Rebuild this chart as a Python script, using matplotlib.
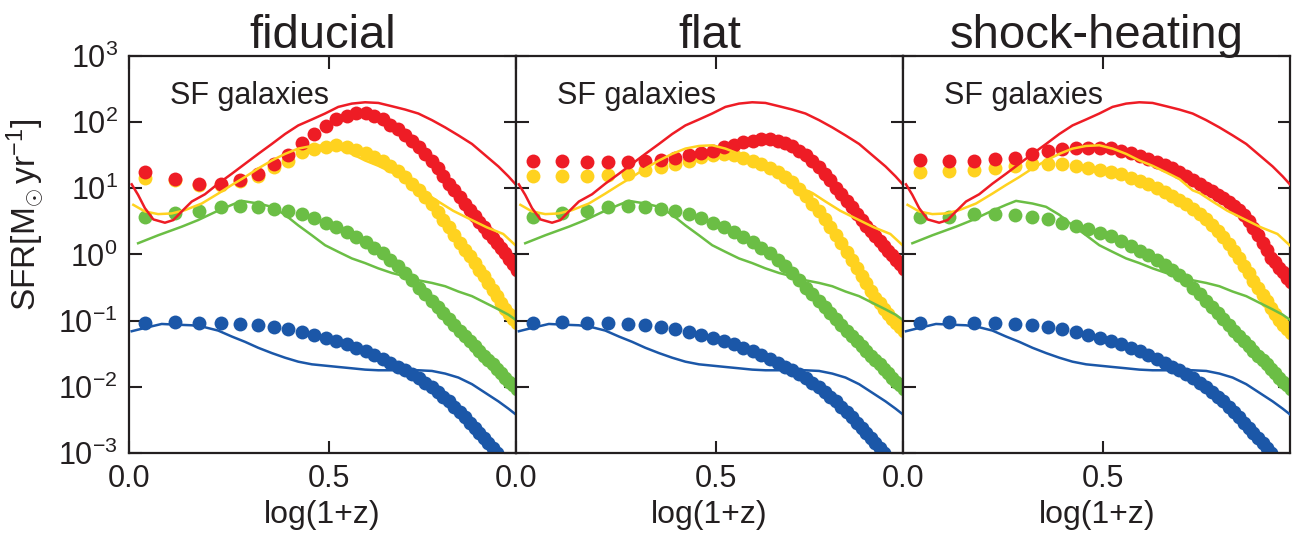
import matplotlib
matplotlib.use("Agg")
import matplotlib.pyplot as plt
import numpy as np

plt.rcParams['font.family'] = ['Liberation Sans', 'DejaVu Sans']
plt.rcParams['mathtext.fontset'] = 'custom'
plt.rcParams['mathtext.rm'] = 'Liberation Sans'
plt.rcParams['mathtext.it'] = 'Liberation Sans:italic'
plt.rcParams['mathtext.bf'] = 'Liberation Sans:bold'

# snapshot redshifts of the model points
z_pts = [0.1, 0.3, 0.5, 0.7, 0.9, 1.1, 1.3, 1.5, 1.7, 1.9, 2.1, 2.3, 2.5, 2.7,
         2.9, 3.1, 3.3, 3.5, 3.7, 3.9, 4.1, 4.3, 4.5, 4.7, 4.9, 5.1, 5.3, 5.5,
         5.7, 5.9, 6.1, 6.3, 6.5, 6.7, 6.9, 7.1, 7.3, 7.5, 7.7, 7.9, 8.1, 8.3]

# log10 SFR of the model points (dots), one list per panel and mass bin
red_fid = [1.24, 1.14, 1.07, 1.07, 1.13, 1.21, 1.36, 1.51, 1.68, 1.82, 1.94,
           2.04, 2.10, 2.14, 2.14, 2.10, 2.04, 1.96, 1.89, 1.81, 1.72, 1.63,
           1.52, 1.41, 1.30, 1.19, 1.07, 0.97, 0.87, 0.77, 0.67, 0.58, 0.49,
           0.41, 0.33, 0.25, 0.17, 0.10, 0.02, -0.07, -0.15, -0.24]
yel_fid = [1.15, 1.12, 1.05, 1.05, 1.11, 1.19, 1.32, 1.42, 1.55, 1.60, 1.63,
           1.65, 1.62, 1.58, 1.54, 1.47, 1.41, 1.34, 1.26, 1.17, 1.07, 0.97,
           0.87, 0.76, 0.64, 0.52, 0.41, 0.29, 0.18, 0.07, -0.03, -0.13, -0.23,
           -0.33, -0.43, -0.53, -0.63, -0.73, -0.82, -0.90, -0.97, -1.03]
grn_fid = [0.57, 0.63, 0.66, 0.71, 0.73, 0.71, 0.69, 0.66, 0.61, 0.55, 0.47,
           0.42, 0.34, 0.27, 0.19, 0.10, 0.02, -0.08, -0.18, -0.28, -0.39,
           -0.50, -0.60, -0.70, -0.79, -0.89, -0.98, -1.06, -1.15, -1.23,
           -1.30, -1.38, -1.46, -1.53, -1.60, -1.66, -1.73, -1.79, -1.86,
           -1.92, -1.98, -2.04]
blu_all = [-1.03, -1.02, -1.03, -1.04, -1.05, -1.07, -1.09, -1.12, -1.17,
           -1.21, -1.26, -1.30, -1.35, -1.41, -1.46, -1.52, -1.58, -1.64,
           -1.70, -1.75, -1.81, -1.87, -1.94, -2.01, -2.08, -2.15, -2.22,
           -2.30, -2.38, -2.46, -2.54, -2.62, -2.70, -2.78, -2.85, -2.93,
           -3.00, -3.08, -3.15, -3.23, -3.30, -3.38]

red_flat = [1.42, 1.41, 1.40, 1.39, 1.39, 1.41, 1.43, 1.46, 1.50, 1.53, 1.57,
            1.62, 1.66, 1.70, 1.72, 1.74, 1.74, 1.72, 1.69, 1.64, 1.57, 1.50,
            1.42, 1.32, 1.22, 1.12, 1.01, 0.91, 0.81, 0.71, 0.61, 0.52, 0.43,
            0.35, 0.28, 0.20, 0.13, 0.06, -0.01, -0.08, -0.15, -0.22]
yel_flat = [1.19, 1.19, 1.19, 1.20, 1.22, 1.27, 1.32, 1.37, 1.42, 1.47, 1.50,
            1.52, 1.50, 1.46, 1.42, 1.37, 1.31, 1.25, 1.17, 1.09, 0.99, 0.89,
            0.77, 0.66, 0.53, 0.42, 0.29, 0.17, 0.04, -0.08, -0.21, -0.32,
            -0.43, -0.55, -0.66, -0.74, -0.83, -0.90, -0.97, -1.04, -1.10,
            -1.15]
grn_flat = grn_fid

red_shock = [1.43, 1.42, 1.42, 1.44, 1.46, 1.52, 1.57, 1.60, 1.61, 1.61, 1.61,
             1.61, 1.57, 1.53, 1.49, 1.45, 1.40, 1.35, 1.30, 1.25, 1.19, 1.13,
             1.07, 1.01, 0.96, 0.90, 0.85, 0.80, 0.74, 0.67, 0.60, 0.50, 0.40,
             0.29, 0.18, 0.07, -0.05, -0.12, -0.20, -0.27, -0.35, -0.42]
yel_shock = [1.25, 1.26, 1.28, 1.31, 1.33, 1.36, 1.36, 1.36, 1.34, 1.31, 1.27,
             1.25, 1.21, 1.16, 1.11, 1.06, 1.01, 0.95, 0.89, 0.82, 0.76, 0.69,
             0.61, 0.53, 0.44, 0.35, 0.26, 0.16, 0.05, -0.06, -0.17, -0.28,
             -0.40, -0.51, -0.61, -0.71, -0.81, -0.90, -0.99, -1.06, -1.12,
             -1.18]
grn_shock = [0.56, 0.57, 0.61, 0.61, 0.60, 0.56, 0.53, 0.48, 0.43, 0.38, 0.32,
             0.28, 0.20, 0.13, 0.06, -0.01, -0.08, -0.16, -0.23, -0.31, -0.39,
             -0.50, -0.60, -0.70, -0.79, -0.89, -0.98, -1.06, -1.15, -1.23,
             -1.30, -1.38, -1.46, -1.53, -1.60, -1.66, -1.73, -1.79, -1.86,
             -1.92, -1.98, -2.04]

# reference curves (solid lines), same in all panels: log(1+z), log10 SFR
red_line_x = [0.007, 0.023, 0.04, 0.061, 0.09, 0.111, 0.132, 0.157, 0.19, 0.223,
              0.257, 0.29, 0.323, 0.357, 0.39, 0.423, 0.457, 0.49, 0.523, 0.557,
              0.59, 0.623, 0.657, 0.69, 0.723, 0.757, 0.79, 0.823, 0.857, 0.89,
              0.923, 0.948, 0.969]
red_line = [1.06, 0.90, 0.70, 0.53, 0.48, 0.52, 0.65, 0.80, 0.91, 1.07,
            1.22, 1.37, 1.52, 1.67, 1.82, 1.95, 2.04, 2.13, 2.23, 2.28,
            2.30, 2.29, 2.24, 2.19, 2.13, 2.03, 1.92, 1.80, 1.67, 1.50,
            1.33, 1.18, 1.04]
yel_line_x = [0.011, 0.04, 0.073, 0.107, 0.14, 0.182, 0.223, 0.257, 0.29, 0.323,
              0.357, 0.39, 0.423, 0.457, 0.49, 0.523, 0.557, 0.59, 0.623, 0.657,
              0.69, 0.723, 0.74, 0.773, 0.81, 0.85, 0.894, 0.935, 0.969]
yel_line = [0.75, 0.65, 0.61, 0.62, 0.67, 0.77, 0.92, 1.05, 1.17, 1.30,
            1.42, 1.52, 1.60, 1.64, 1.65, 1.60, 1.52, 1.42, 1.34, 1.24,
            1.14, 0.97, 0.93, 0.80, 0.66, 0.54, 0.41, 0.31, 0.12]
grn_line_x = [0.023, 0.073, 0.132, 0.173, 0.215, 0.257, 0.282, 0.323, 0.357, 0.39,
              0.423, 0.457, 0.49, 0.523, 0.557, 0.59, 0.623, 0.657, 0.69, 0.723,
              0.757, 0.79, 0.823, 0.857, 0.89, 0.923, 0.948, 0.969]
grn_line = [0.17, 0.29, 0.42, 0.52, 0.64, 0.75, 0.81, 0.77, 0.72, 0.60,
            0.44, 0.29, 0.14, 0.04, -0.06, -0.13, -0.21, -0.28, -0.33, -0.39,
            -0.43, -0.48, -0.56, -0.63, -0.73, -0.83, -0.91, -1.00]
blu_line_x = [0.007, 0.04, 0.082, 0.115, 0.157, 0.19, 0.223, 0.257, 0.29, 0.323,
              0.357, 0.39, 0.423, 0.457, 0.49, 0.523, 0.557, 0.59, 0.623, 0.657,
              0.69, 0.723, 0.757, 0.79, 0.823, 0.857, 0.89, 0.923, 0.948, 0.969]
blu_line = [-1.16, -1.11, -1.05, -1.06, -1.07, -1.10, -1.15, -1.24, -1.32, -1.41,
            -1.49, -1.56, -1.62, -1.66, -1.68, -1.70, -1.72, -1.74, -1.75, -1.75,
            -1.75, -1.75, -1.76, -1.80, -1.86, -1.96, -2.09, -2.22, -2.33, -2.43]

titles = ['fiducial', 'flat', 'shock-heating']
panel_dots = [
    [blu_all, grn_fid, yel_fid, red_fid],
    [blu_all, grn_flat, yel_flat, red_flat],
    [blu_all, grn_shock, yel_shock, red_shock],
]
line_x = [blu_line_x, grn_line_x, yel_line_x, red_line_x]
line_y = [blu_line, grn_line, yel_line, red_line]
colors = ['#1B57A8', '#6BBE45', '#FFD21F', '#EE1C25']

fig, axes = plt.subplots(1, 3, figsize=(13.02, 5.38), dpi=100, sharey=True)
fig.subplots_adjust(left=0.099, right=0.991, bottom=0.158, top=0.896, wspace=0)

x_pts = np.log10(1 + np.array(z_pts))

for ax, title, dots in zip(axes, titles, panel_dots):
    # model points
    for vals, c in zip(dots, colors):
        ax.plot(x_pts, 10 ** np.array(vals), 'o', color=c, ms=10,
                mec='none', zorder=2)
    # reference curves
    for lx, ly, c in zip(line_x, line_y, colors):
        ax.plot(lx, 10 ** np.array(ly), '-', color=c, lw=1.8, zorder=3)

    ax.set_yscale('log')
    ax.set_ylim(1e-3, 1e3)
    ax.set_xlim(0, 0.967)
    ax.set_xticks([0.0, 0.5])
    ax.set_xticklabels(['0.0', '0.5'])
    ax.set_yticks([1e-3, 1e-2, 1e-1, 1e0, 1e1, 1e2, 1e3])
    ax.minorticks_off()
    ax.tick_params(which='major', direction='in', length=9, width=1.5,
                   top=True, right=True, labelsize=22, pad=8,
                   color='#231F20', labelcolor='#231F20')
    for sp in ax.spines.values():
        sp.set_linewidth(1.6)
        sp.set_color('#231F20')
    ax.set_title(title, fontsize=34, pad=6, color='#231F20')
    ax.set_xlabel('log(1+z)', fontsize=23, color='#231F20', labelpad=4)
    ax.text(0.106, 0.88, 'SF galaxies', transform=ax.transAxes,
            fontsize=22, color='#231F20')

for ax in axes[1:]:
    ax.tick_params(labelleft=False)

axes[0].set_ylabel(r'SFR[M$_{\odot}\,$yr$^{-1}$]', fontsize=24,
                   color='#231F20')
axes[0].yaxis.set_label_coords(-0.215, 0.6)

fig.savefig('out.png', dpi=100)
